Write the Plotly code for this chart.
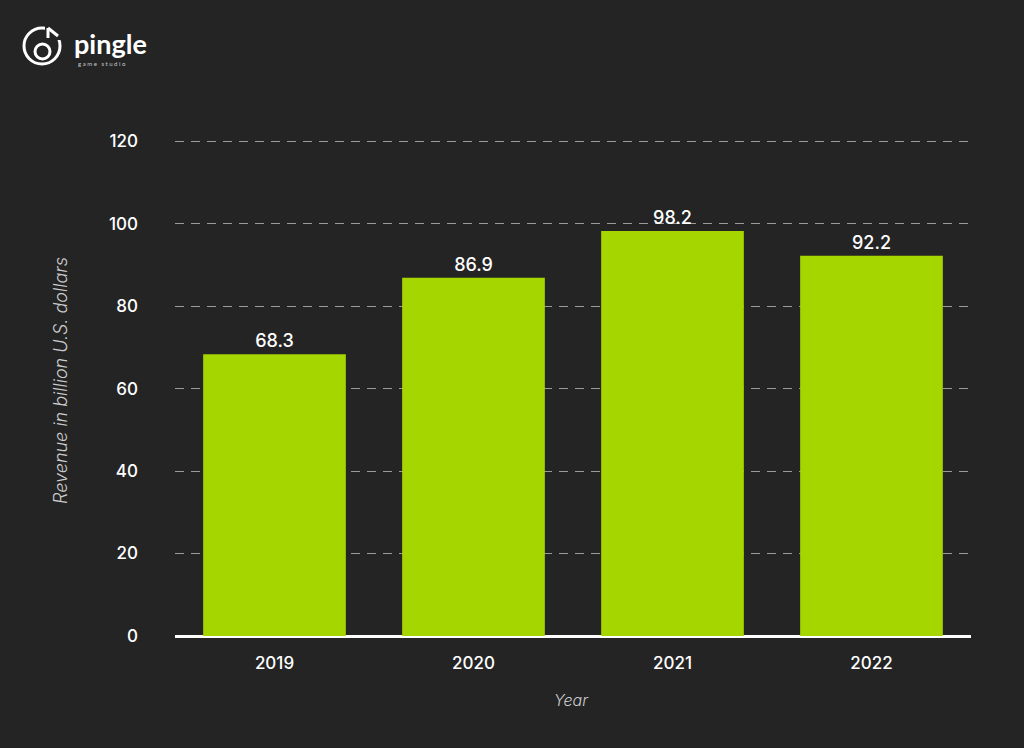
import plotly.graph_objects as go

years = ["2019", "2020", "2021", "2022"]
revenue = [68.3, 86.9, 98.2, 92.2]
y_ticks = [0, 20, 40, 60, 80, 100, 120]

BG = "#242424"
BAR = "#a6d600"
FONT = "Inter"

fig = go.Figure()
fig.add_trace(go.Bar(
    x=years, y=revenue,
    marker=dict(color=BAR, line=dict(width=0)),
    text=[f"{v:.1f}" for v in revenue],
    textposition="outside",
    textfont=dict(color="white", size=18, family=FONT, weight=500),
    cliponaxis=False,
    hoverinfo="skip",
))

def py(pix):
    return (748 - 112 - pix) / 499

def px(pix):
    return (pix - 175) / 796

fig.update_layout(
    width=1024, height=748,
    paper_bgcolor=BG, plot_bgcolor=BG,
    margin=dict(l=175, r=53, t=137, b=112),
    bargap=0.283,
    showlegend=False,
    font=dict(family=FONT, color="white"),
    xaxis=dict(
        type="category",
        tickfont=dict(size=17, color="white", family=FONT, weight=500),
        showgrid=False, showline=False, ticks="",
        ticklabelstandoff=15,
    ),
    yaxis=dict(
        range=[0, 121],
        tickvals=y_ticks,
        tickfont=dict(size=17, color="white", family=FONT, weight=500),
        showgrid=True, gridcolor="#9a9a9a", gridwidth=1.3,
        griddash="9px,7px",
        zeroline=True, zerolinecolor="white", zerolinewidth=3,
        showline=False, ticks="",
        ticklabelstandoff=36,
    ),
    annotations=[
        dict(text="Revenue in billion U.S. dollars", xref="paper", yref="paper",
             x=px(60), y=py(381), xanchor="center", yanchor="middle", textangle=-90,
             showarrow=False, font=dict(size=18, color="#cccccc", family=FONT, style="italic", weight=300)),
        dict(text="Year", xref="paper", yref="paper",
             x=px(571), y=py(700), xanchor="center", yanchor="middle",
             showarrow=False, font=dict(size=16, color="#cccccc", family=FONT, style="italic", weight=300)),
        dict(text="<b>pingle</b>", xref="paper", yref="paper", x=px(72), y=py(44),
             xanchor="left", yanchor="middle", showarrow=False,
             font=dict(size=27, color="white", family="Lato")),
        dict(text="g a m e   s t u d i o", xref="paper", yref="paper", x=px(76), y=py(63),
             xanchor="left", yanchor="middle", showarrow=False,
             font=dict(size=6, color="#cccccc", family="Lato")),
    ],
)

# simple logo icon
fig.add_shape(type="circle", xref="paper", yref="paper",
              x0=px(24), x1=px(60), y0=py(64), y1=py(28),
              line=dict(color="white", width=3))
fig.add_shape(type="circle", xref="paper", yref="paper",
              x0=px(35), x1=px(50), y0=py(59), y1=py(44),
              line=dict(color="white", width=3), fillcolor=BG)
fig.add_shape(type="rect", xref="paper", yref="paper",
              x0=px(45), x1=px(63), y0=py(40), y1=py(26),
              line=dict(width=0), fillcolor=BG)
fig.add_shape(type="line", xref="paper", yref="paper",
              x0=px(48), x1=px(48), y0=py(28), y1=py(38),
              line=dict(color="white", width=3))
fig.add_shape(type="line", xref="paper", yref="paper",
              x0=px(48), x1=px(58), y0=py(28), y1=py(36),
              line=dict(color="white", width=3))

fig.write_html(
    "out.html",
    config={"displayModeBar": False},
    post_script="document.body.style.margin='0';document.body.style.background='#242424';document.body.style.overflow='hidden';",
)
